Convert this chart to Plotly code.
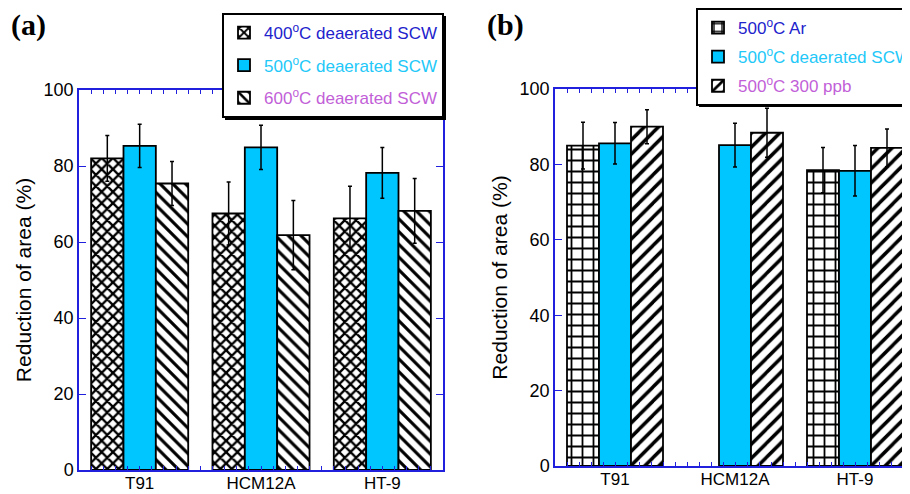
import plotly.graph_objects as go

# ---------------- data ----------------
categories = ["T91", "HCM12A", "HT-9"]
xpos = [0, 1, 2]

# panel (a)
a_400 = [82.0, 67.5, 66.2]
a_400_err = [6.0, 8.3, 8.5]
a_500 = [85.3, 84.9, 78.2]
a_500_err = [5.7, 5.8, 6.7]
a_600 = [75.4, 61.8, 68.2]
a_600_err = [5.8, 9.1, 8.5]

# panel (b)
b_ar = [85.0, None, 78.5]
b_ar_err = [6.2, 0, 6.0]
b_scw = [85.6, 85.1, 78.3]
b_scw_err = [5.5, 5.8, 6.7]
b_ppb = [90.0, 88.4, 84.4]
b_ppb_err = [4.5, 6.5, 5.0]

yticks = [0, 20, 40, 60, 80, 100]

# ---------------- style ----------------
FONT = "Arial, Liberation Sans, sans-serif"
AXC = "#2020dd"
CYAN = "#00c6ff"
C_BLUE = "#2222cc"
C_CYAN = "#22c8f8"
C_VIOL = "#c25fd8"
OFF = 8                    # default page body margin
W, H = 910 - OFF, 494 - OFF


def px(X):   # page x pixel -> paper fraction
    return (X - OFF) / W


def py(Y):   # page y pixel -> paper fraction
    return 1 - (Y - OFF) / H


def err(arr):
    return dict(type="data", array=arr, visible=True, color="black", thickness=1.5, width=2)


def bar(x, y, e, name, color, pattern, xa, ya, legend, group):
    mk = dict(color=color, line=dict(color="black", width=1.8))
    if pattern:
        mk["pattern"] = pattern
    return go.Bar(x=x, y=y, error_y=err(e), name=name, marker=mk,
                  xaxis=xa, yaxis=ya, legend=legend, legendgroup=group)


pat_x = dict(shape="x", fgcolor="black", bgcolor="white", size=8, solidity=0.5, fillmode="replace")
pat_bs = dict(shape="\\", fgcolor="black", bgcolor="white", size=9, solidity=0.35, fillmode="replace")
pat_plus = dict(shape="+", fgcolor="black", bgcolor="white", size=11, solidity=0.3, fillmode="replace")
pat_fs = dict(shape="/", fgcolor="black", bgcolor="white", size=10, solidity=0.35, fillmode="replace")


def lbl(text, color):
    return f"<span style='color:{color}'>{text}</span>"


fig = go.Figure()
fig.add_trace(bar(xpos, a_400, a_400_err, lbl("400<sup>o</sup>C deaerated SCW", C_BLUE), "white", pat_x, "x", "y", "legend", "a1"))
fig.add_trace(bar(xpos, a_500, a_500_err, lbl("500<sup>o</sup>C deaerated SCW", C_CYAN), CYAN, None, "x", "y", "legend", "a2"))
fig.add_trace(bar(xpos, a_600, a_600_err, lbl("600<sup>o</sup>C deaerated SCW", C_VIOL), "white", pat_bs, "x", "y", "legend", "a3"))

fig.add_trace(bar(xpos, b_ar, b_ar_err, lbl("500<sup>o</sup>C Ar", C_BLUE), "white", pat_plus, "x2", "y2", "legend2", "b1"))
fig.add_trace(bar(xpos, b_scw, b_scw_err, lbl("500<sup>o</sup>C deaerated SCW", C_CYAN), CYAN, None, "x2", "y2", "legend2", "b2"))
fig.add_trace(bar(xpos, b_ppb, b_ppb_err, lbl("500<sup>o</sup>C 300 ppb", C_VIOL), "white", pat_fs, "x2", "y2", "legend2", "b3"))


def xax(dom, rng, anchor):
    return dict(domain=dom, range=rng, anchor=anchor, tickmode="array", tickvals=xpos, ticktext=categories,
                showline=True, linecolor=AXC, linewidth=1.5, mirror="ticks", automargin=False,
                ticks="inside", ticklen=4, tickcolor=AXC, tickwidth=1.2, ticklabelstandoff=-3,
                minor=dict(tick0=-0.5, dtick=0.1, ticks="inside", ticklen=4, tickcolor=AXC, tickwidth=1.2),
                showgrid=False, zeroline=False,
                tickfont=dict(family=FONT, size=17, color="black"))


def yax(dom, anchor, mirror):
    return dict(domain=dom, range=[0, 100], anchor=anchor, tickmode="array", tickvals=yticks,
                showline=True, linecolor=AXC, linewidth=1.5, mirror=mirror, automargin=False,
                ticks="inside", ticklen=7, tickcolor=AXC, tickwidth=1.2,
                showgrid=False, zeroline=False,
                tickfont=dict(family=FONT, size=18, color="black"),
                title=dict(text="Reduction of area (%)", font=dict(family=FONT, size=21, color="black"), standoff=6))


xa_dom = [px(79), px(443)]
xb_dom = [px(555), 1.0]
ya_dom = [py(470), py(90)]
yb_dom = [py(466), py(89)]

fig.update_layout(
    width=W, height=H, margin=dict(l=0, r=0, t=0, b=0, autoexpand=False),
    paper_bgcolor="white", plot_bgcolor="white",
    barmode="group", bargap=0.2, bargroupgap=0,
    font=dict(family=FONT, size=17, color="black"),
    xaxis=xax(xa_dom, [-0.5, 2.5], "y"),
    yaxis=yax(ya_dom, "x", "ticks"),
    xaxis2=xax(xb_dom, [-0.5, -0.5 + (910 - 555) / 120.0], "y2"),
    yaxis2=yax(yb_dom, "x2", False),
    legend=dict(x=px(222), y=py(13), xanchor="left", yanchor="top",
                bgcolor="white", bordercolor="black", borderwidth=2,
                font=dict(family=FONT, size=17), tracegroupgap=7.5, traceorder="grouped"),
    legend2=dict(x=px(696), y=py(8), xanchor="left", yanchor="top",
                 bgcolor="white", bordercolor="black", borderwidth=2,
                 font=dict(family=FONT, size=17), tracegroupgap=4, traceorder="grouped"),
    annotations=[
        dict(text="<b>(a)</b>", x=px(9), y=py(6), xref="paper", yref="paper", xanchor="left", yanchor="top",
             showarrow=False, font=dict(family="Liberation Serif, Times New Roman, serif", size=30, color="black")),
        dict(text="<b>(b)</b>", x=px(485), y=py(6), xref="paper", yref="paper", xanchor="left", yanchor="top",
             showarrow=False, font=dict(family="Liberation Serif, Times New Roman, serif", size=30, color="black")),
    ],
    shapes=[
        dict(type="rect", xref="paper", yref="paper", x0=px(225), x1=px(446), y0=py(120), y1=py(16),
             fillcolor="black", line=dict(width=0), layer="above"),
        dict(type="rect", xref="paper", yref="paper", x0=px(699), x1=1.0, y0=py(107), y1=py(11),
             fillcolor="black", line=dict(width=0), layer="above"),
    ],
)

fig.write_html("out.html")
